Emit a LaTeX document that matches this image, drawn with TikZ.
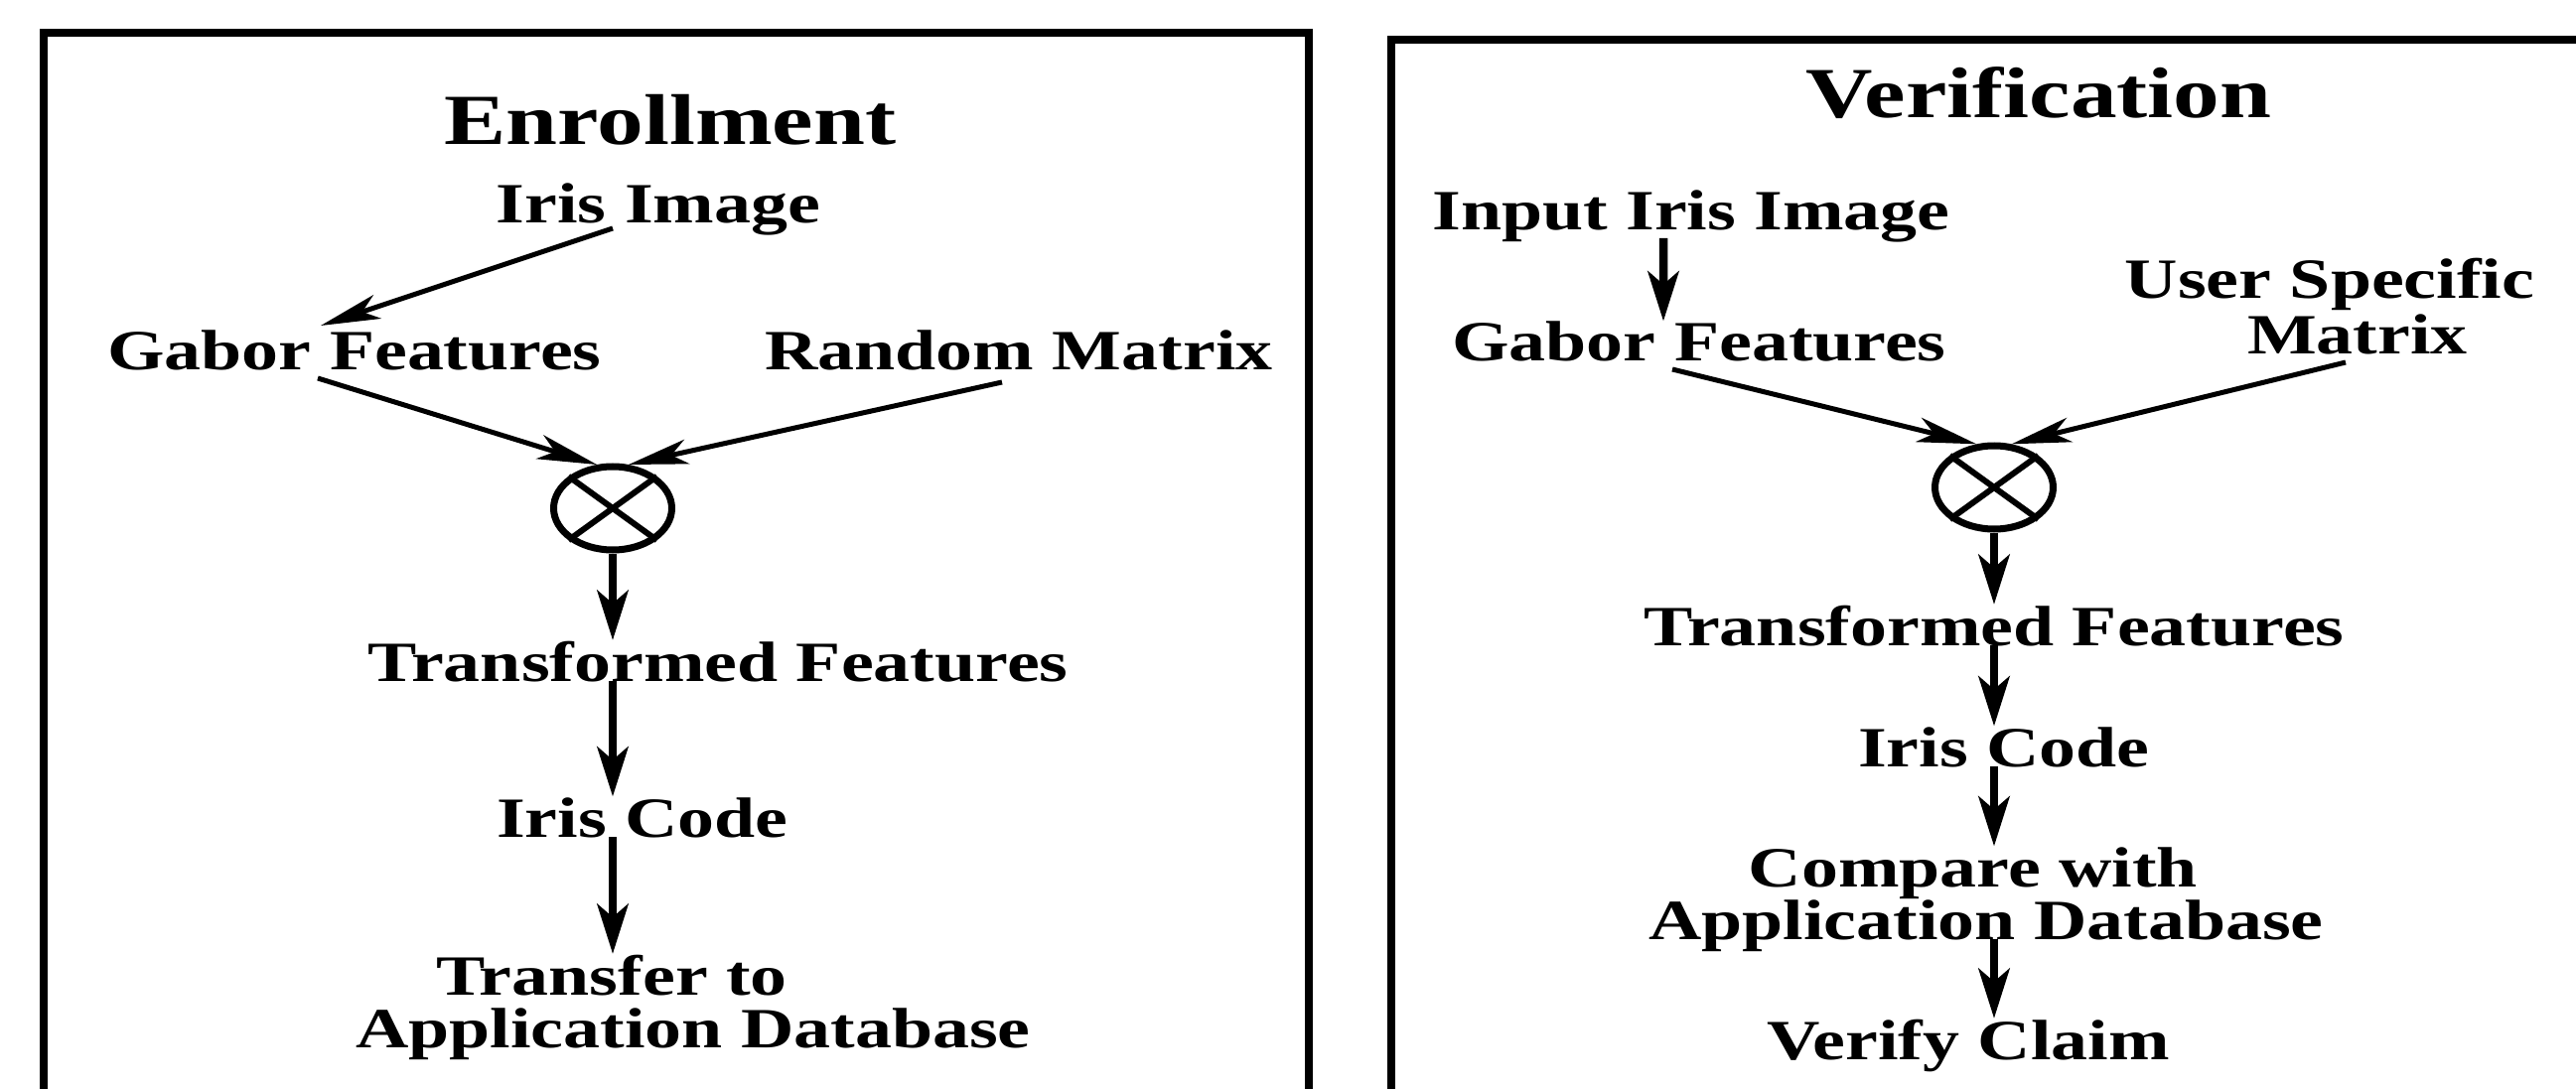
\documentclass[tikz,border=0pt]{standalone}
\usepackage{fontspec}
\setmainfont{Liberation Serif}[FakeStretch=1.29]
\usetikzlibrary{arrows.meta,shapes.geometric}

\begin{document}
\begin{tikzpicture}[line join=miter,
	>={Stealth[length=5mm,width=3.1mm,inset=1.3mm]},
	lbl/.style={inner sep=0pt, anchor=base, font=\fontsize{16.3pt}{19pt}\selectfont\bfseries},
	ttl/.style={inner sep=0pt, anchor=base, font=\fontsize{20.6pt}{24pt}\selectfont\bfseries},
	frame/.style={line width=0.085cm},
	mult/.style={draw, ellipse, line width=0.07cm, minimum width=1.19cm, minimum height=0.84cm, inner sep=0pt},
	flow/.style={line width=0.085cm, ->},
	feed/.style={line width=0.05cm, -{Stealth[length=6mm,width=2.5mm,inset=1.6mm]}}]
	
	\useasboundingbox (0,0) rectangle (25.94,-10.97);
	
	% Two panels, open at the bottom
	\draw[frame] (0.44,-11.5) |- (13.18,-0.33) -- (13.18,-11.5);
	\draw[frame] (14.01,-11.5) |- (26.5,-0.40);
	
	% Enrollment
	\node[ttl] (enr) at (6.75,-1.46) {Enrollment};
	\node[lbl] (ii) at (6.63,-2.25) {Iris Image};
	\node[lbl] (gf) at (3.57,-3.73) {Gabor Features};
	\node[lbl] (rm) at (10.26,-3.73) {Random Matrix};
	\node[mult] (xo) at (6.17,-5.12) {};
	\node[lbl] (tf) at (7.23,-6.86) {Transformed Features};
	\node[lbl] (ic) at (6.47,-8.43) {Iris Code};
	\node[lbl] (tr) at (6.16,-10.02) {Transfer to};
	\node[lbl] (db) at (6.98,-10.55) {Application Database};
	
	\draw[feed] ([shift={(-0.46,-0.05)}]ii.base) -- ([shift={(-0.34,0.45)}]gf.base);
	\draw[feed] ([shift={(-0.37,-0.08)}]gf.base) -- (xo.110);
	\draw[feed] ([shift={(-0.17,-0.12)}]rm.base) -- (xo.70);
	\draw[flow] (xo.south) -- (xo |- tf.north);
	\draw[flow] (xo |- tf.base) -- (xo |- ic.north);
	\draw[flow] (xo |- ic.base) -- (xo |- tr.north);
	
	% Verification
	\node[ttl] (ver) at (20.53,-1.19) {Verification};
	\node[lbl] (in) at (17.03,-2.32) {Input Iris Image};
	\node[lbl] (gf2) at (17.11,-3.64) {Gabor Features};
	\node[lbl] (us) at (23.46,-3.01) {User Specific};
	\node[lbl] (mx) at (23.74,-3.56) {Matrix};
	\node[mult] (xo2) at (20.08,-4.91) {};
	\node[lbl] (tf2) at (20.08,-6.50) {Transformed Features};
	\node[lbl] (ic2) at (20.18,-7.72) {Iris Code};
	\node[lbl] (cw) at (19.87,-8.93) {Compare with};
	\node[lbl] (ad) at (20.00,-9.46) {Application Database};
	\node[lbl] (vc) at (19.82,-10.67) {Verify Claim};
	
	\draw[flow] ([shift={(-0.28,-0.08)}]in.base) -- ([xshift=-0.28cm]in.base |- gf2.north);
	\draw[feed] ([shift={(-0.27,-0.08)}]gf2.base) -- (xo2.112);
	\draw[feed] ([shift={(-0.12,-0.09)}]mx.base) -- (xo2.68);
	\draw[flow] (xo2.south) -- (xo2 |- tf2.north);
	\draw[flow] (xo2 |- tf2.base) -- (xo2 |- ic2.north);
	\draw[flow] (xo2 |- ic2.base) -- (xo2 |- cw.north);
	\draw[flow] (xo2 |- ad.base) -- (xo2 |- vc.north);
	
	% Multiplier crosses
	\foreach \o in {xo,xo2}
	\draw[line width=0.06cm] (\o.north west) -- (\o.south east) (\o.north east) -- (\o.south west);
\end{tikzpicture}
\end{document}
